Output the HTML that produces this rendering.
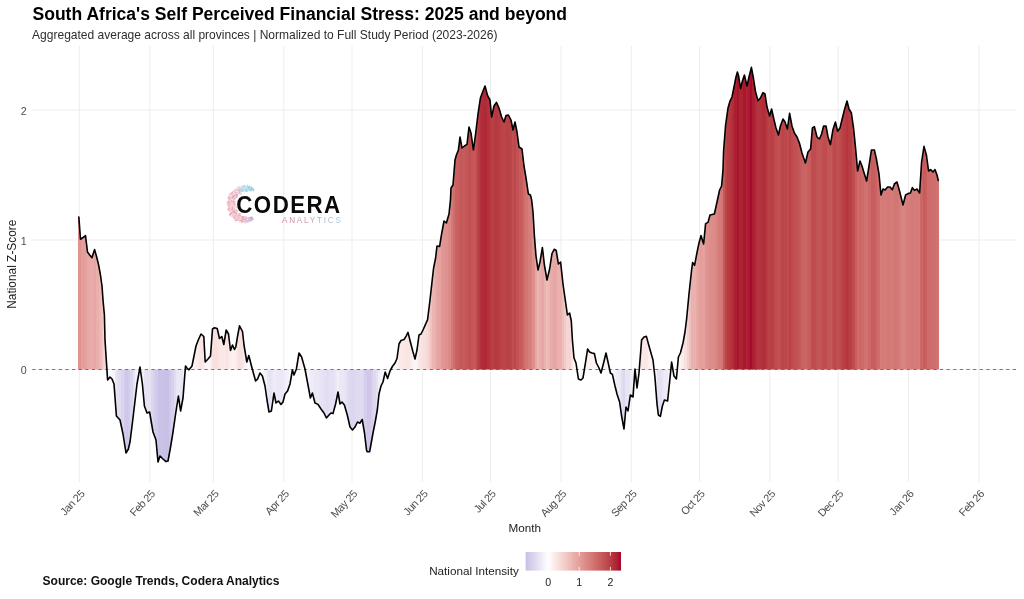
<!DOCTYPE html>
<html><head><meta charset="utf-8"><title>South Africa's Self Perceived Financial Stress</title>
<style>
html,body{margin:0;padding:0;background:#fff;}
body{width:1024px;height:599px;overflow:hidden;font-family:"Liberation Sans",Arial,sans-serif;}
svg{display:block}
text{font-family:"Liberation Sans",Arial,sans-serif;}
</style></head><body>
<svg width="1024" height="599" viewBox="0 0 1024 599">
<rect width="1024" height="599" fill="#ffffff"/>

<g stroke="#ededed" stroke-width="1" fill="none">
<line x1="31.5" x2="1016.6" y1="369.5" y2="369.5"/>
<line x1="31.5" x2="1016.6" y1="240.0" y2="240.0"/>
<line x1="31.5" x2="1016.6" y1="110.0" y2="110.0"/>
<line x1="79.4" x2="79.4" y1="46" y2="482"/>
<line x1="149.8" x2="149.8" y1="46" y2="482"/>
<line x1="213.4" x2="213.4" y1="46" y2="482"/>
<line x1="283.8" x2="283.8" y1="46" y2="482"/>
<line x1="352.0" x2="352.0" y1="46" y2="482"/>
<line x1="422.4" x2="422.4" y1="46" y2="482"/>
<line x1="490.5" x2="490.5" y1="46" y2="482"/>
<line x1="561.0" x2="561.0" y1="46" y2="482"/>
<line x1="631.4" x2="631.4" y1="46" y2="482"/>
<line x1="699.5" x2="699.5" y1="46" y2="482"/>
<line x1="769.9" x2="769.9" y1="46" y2="482"/>
<line x1="838.1" x2="838.1" y1="46" y2="482"/>
<line x1="908.5" x2="908.5" y1="46" y2="482"/>
<line x1="978.9" x2="978.9" y1="46" y2="482"/>
</g>
<defs><clipPath id="cp"><path d="M77.2,369.5 L77.2,216.5 L78.8,216.5 L80.5,239.3 L83.0,237.5 L85.5,235.6 L87.5,252.0 L89.7,255.0 L92.0,257.6 L94.6,249.6 L96.4,256.0 L98.4,264.0 L100.3,274.0 L102.0,286.0 L103.0,300.0 L104.4,315.0 L105.0,340.0 L107.6,380.0 L110.0,377.0 L112.0,379.0 L114.0,384.0 L116.4,416.0 L120.0,420.0 L123.0,434.0 L126.0,453.0 L128.4,449.0 L130.0,442.0 L133.0,418.0 L137.0,384.0 L140.0,367.0 L142.4,384.0 L144.4,406.0 L147.0,413.0 L149.6,412.0 L153.0,432.0 L156.0,440.0 L158.0,462.0 L160.0,456.0 L163.0,459.0 L166.0,461.6 L168.0,461.0 L170.4,448.0 L173.0,432.0 L175.6,414.0 L178.4,396.0 L180.6,411.0 L183.0,398.0 L185.5,366.0 L187.2,368.3 L189.0,369.8 L192.0,366.0 L194.0,356.0 L196.0,346.0 L198.5,339.5 L201.0,334.0 L203.8,336.5 L205.2,362.0 L208.0,359.0 L210.5,356.0 L212.5,329.0 L214.5,327.8 L217.2,328.5 L219.5,338.5 L221.8,336.5 L223.8,344.5 L226.2,330.0 L228.5,334.0 L230.5,350.5 L232.5,345.0 L234.5,349.5 L235.8,347.0 L237.6,336.0 L239.5,325.8 L242.5,331.5 L244.0,345.0 L246.8,362.0 L248.8,355.5 L252.0,368.0 L255.6,381.0 L257.6,379.0 L260.0,373.0 L262.4,376.0 L265.0,386.0 L267.0,400.0 L269.0,412.0 L271.4,411.0 L274.0,393.0 L276.0,403.0 L278.4,401.0 L281.0,404.4 L283.0,402.0 L285.0,394.0 L287.6,391.0 L290.0,384.0 L292.4,370.0 L294.0,375.0 L296.4,369.0 L299.0,353.0 L301.6,357.0 L305.0,369.0 L308.0,385.0 L310.4,398.0 L312.4,393.0 L315.0,403.0 L318.0,404.4 L321.0,409.0 L324.0,413.0 L326.4,418.0 L329.0,415.0 L331.0,413.0 L333.0,413.6 L335.6,404.0 L338.0,392.0 L340.0,404.0 L342.0,402.0 L344.4,405.0 L347.0,414.0 L348.2,419.0 L350.0,427.0 L352.5,430.0 L355.0,427.0 L357.5,422.0 L360.0,423.2 L362.2,419.5 L364.5,433.0 L366.5,450.0 L367.2,451.8 L369.6,451.8 L370.5,447.0 L373.0,433.0 L375.3,421.5 L377.3,410.0 L379.0,394.0 L381.0,386.0 L383.0,382.0 L385.2,372.0 L387.6,378.4 L390.0,371.0 L392.4,366.5 L395.0,363.0 L397.0,358.5 L399.0,344.0 L401.0,340.4 L404.0,339.6 L406.4,335.6 L408.0,332.4 L410.4,342.0 L413.0,352.0 L415.0,359.0 L417.0,350.0 L419.0,335.0 L421.0,334.0 L423.0,330.0 L427.6,319.6 L430.0,300.0 L432.0,282.0 L433.6,268.0 L435.6,258.0 L437.0,246.0 L439.6,246.4 L441.6,234.0 L444.0,221.0 L446.4,223.0 L449.0,214.0 L450.5,199.6 L451.0,188.0 L453.0,185.0 L455.0,160.0 L456.4,155.0 L458.4,150.0 L460.0,137.0 L462.0,148.0 L464.4,146.0 L467.0,144.4 L469.0,127.0 L471.0,133.0 L473.4,150.0 L475.6,134.0 L478.0,114.0 L480.4,98.0 L483.0,91.0 L485.0,86.0 L487.6,95.6 L490.0,100.0 L491.6,117.0 L494.0,106.0 L496.4,102.4 L499.0,108.0 L501.6,117.0 L504.0,122.0 L506.0,115.6 L508.4,115.0 L511.0,120.0 L513.0,130.0 L515.0,122.0 L517.0,132.0 L519.0,147.0 L522.0,149.0 L524.0,166.0 L526.0,178.0 L528.4,194.0 L530.4,195.0 L531.6,199.6 L533.0,212.0 L534.4,236.0 L536.0,256.0 L538.0,270.0 L540.0,262.0 L542.4,247.5 L544.4,265.0 L547.0,280.0 L549.6,269.0 L552.0,253.5 L554.2,249.3 L556.2,250.5 L558.4,264.0 L560.6,262.0 L563.0,284.0 L565.0,298.0 L567.4,315.0 L569.6,313.0 L571.3,321.0 L572.4,340.0 L574.0,358.0 L576.0,363.0 L578.4,379.0 L581.0,380.0 L583.0,378.0 L585.6,362.0 L587.6,349.0 L589.6,352.0 L592.0,353.0 L594.4,353.6 L596.4,363.0 L599.0,368.0 L601.0,373.0 L603.6,363.0 L606.0,353.0 L608.0,362.0 L610.4,373.0 L612.4,374.4 L615.0,386.0 L617.0,394.0 L619.6,402.0 L621.6,416.0 L624.0,429.0 L626.0,407.0 L628.0,411.0 L630.4,395.0 L633.0,397.0 L635.0,369.0 L637.0,388.0 L639.0,373.0 L641.6,340.0 L644.0,337.0 L646.4,336.4 L649.0,346.0 L653.0,360.0 L655.0,378.0 L657.0,404.0 L658.4,415.0 L660.4,416.4 L662.4,406.0 L664.4,400.0 L667.6,401.0 L669.6,382.0 L671.6,362.0 L674.0,376.0 L676.4,379.0 L678.4,357.0 L680.4,353.0 L683.0,343.0 L685.0,332.0 L686.6,319.0 L689.0,294.0 L691.6,270.0 L692.6,262.5 L694.6,265.3 L697.0,252.5 L699.0,243.0 L701.0,235.6 L703.6,244.0 L705.6,223.6 L708.0,222.4 L710.0,215.0 L714.4,214.0 L717.0,202.0 L719.6,190.0 L721.6,186.0 L723.0,170.0 L723.6,151.0 L725.6,125.0 L728.0,108.0 L730.0,101.0 L732.0,97.0 L734.4,85.0 L736.0,77.0 L737.4,72.0 L738.6,76.0 L740.6,88.6 L742.4,81.0 L744.4,75.0 L747.0,86.0 L749.0,77.0 L751.4,67.4 L753.4,78.0 L755.6,92.0 L758.0,100.6 L760.4,98.0 L763.0,92.6 L765.0,94.0 L767.0,107.0 L769.6,116.0 L771.6,109.0 L773.6,118.0 L776.0,128.0 L778.4,135.0 L780.4,126.0 L783.0,119.0 L785.0,122.0 L787.4,129.0 L789.6,113.4 L792.0,126.0 L794.4,133.0 L797.0,137.0 L799.4,143.0 L802.0,153.0 L805.4,163.0 L808.0,152.0 L810.6,149.0 L812.4,128.0 L814.4,126.6 L817.0,137.0 L819.4,139.0 L821.6,134.0 L823.6,126.0 L826.0,126.0 L828.0,137.0 L830.4,144.6 L833.0,129.5 L835.4,122.0 L837.6,131.3 L840.0,128.0 L842.4,118.0 L844.4,110.0 L847.0,101.0 L849.0,109.0 L851.4,113.0 L853.6,128.5 L855.6,148.5 L857.6,171.0 L860.0,161.0 L862.0,166.0 L864.4,174.0 L866.6,181.0 L869.0,166.0 L871.4,150.0 L874.4,150.0 L876.4,159.0 L879.0,174.0 L881.0,195.0 L883.0,189.0 L885.0,190.0 L887.6,187.0 L890.0,187.0 L892.4,189.6 L894.4,184.0 L897.0,182.0 L899.0,189.0 L901.0,197.0 L903.0,205.0 L905.6,195.0 L908.0,193.6 L910.4,193.0 L912.4,187.6 L914.4,190.4 L917.0,189.0 L919.6,193.0 L921.6,162.0 L924.0,146.4 L926.4,155.0 L928.6,171.0 L930.6,169.6 L933.0,172.0 L935.0,169.6 L937.0,175.0 L938.4,181.0 L939.5,181.0 L939.5,369.5 Z"/></clipPath></defs>
<g clip-path="url(#cp)" shape-rendering="crispEdges">
<rect x="78.27" y="60" width="2.57" height="410" fill="#df9491"/>
<rect x="80.53" y="60" width="2.57" height="410" fill="#e39f9b"/>
<rect x="82.81" y="60" width="2.57" height="410" fill="#e39d9a"/>
<rect x="85.08" y="60" width="2.57" height="410" fill="#e4a19d"/>
<rect x="87.34" y="60" width="2.57" height="410" fill="#e7a9a6"/>
<rect x="89.61" y="60" width="2.57" height="410" fill="#e8aba8"/>
<rect x="91.89" y="60" width="2.57" height="410" fill="#e8aaa7"/>
<rect x="94.16" y="60" width="2.57" height="410" fill="#e7a8a5"/>
<rect x="96.42" y="60" width="2.57" height="410" fill="#e9afab"/>
<rect x="98.70" y="60" width="2.57" height="410" fill="#ecb7b4"/>
<rect x="100.97" y="60" width="2.57" height="410" fill="#f0c2bf"/>
<rect x="103.23" y="60" width="2.57" height="410" fill="#f6d6d4"/>
<rect x="105.51" y="60" width="2.57" height="410" fill="#fefcfc"/>
<rect x="107.78" y="60" width="2.57" height="410" fill="#faf9fd"/>
<rect x="110.05" y="60" width="2.57" height="410" fill="#faf9fd"/>
<rect x="112.31" y="60" width="2.57" height="410" fill="#f7f6fb"/>
<rect x="114.58" y="60" width="2.57" height="410" fill="#e9e5f5"/>
<rect x="116.86" y="60" width="2.57" height="410" fill="#e3ddf2"/>
<rect x="119.12" y="60" width="2.57" height="410" fill="#e1dbf1"/>
<rect x="121.39" y="60" width="2.57" height="410" fill="#dad4ee"/>
<rect x="123.67" y="60" width="2.57" height="410" fill="#d2caea"/>
<rect x="125.94" y="60" width="2.57" height="410" fill="#cfc6e8"/>
<rect x="128.21" y="60" width="2.57" height="410" fill="#d3cbea"/>
<rect x="130.48" y="60" width="2.57" height="410" fill="#dcd5ef"/>
<rect x="132.75" y="60" width="2.57" height="410" fill="#e7e2f4"/>
<rect x="135.02" y="60" width="2.57" height="410" fill="#f2f0f9"/>
<rect x="137.29" y="60" width="2.57" height="410" fill="#fbfafd"/>
<rect x="139.56" y="60" width="2.57" height="410" fill="#fefdfe"/>
<rect x="141.83" y="60" width="2.57" height="410" fill="#f3f0f9"/>
<rect x="144.10" y="60" width="2.57" height="410" fill="#e8e4f4"/>
<rect x="146.37" y="60" width="2.57" height="410" fill="#e6e1f3"/>
<rect x="148.64" y="60" width="2.57" height="410" fill="#e5e1f3"/>
<rect x="150.91" y="60" width="2.57" height="410" fill="#ded7ef"/>
<rect x="153.18" y="60" width="2.57" height="410" fill="#d8d1ed"/>
<rect x="155.45" y="60" width="2.57" height="410" fill="#d2caea"/>
<rect x="157.72" y="60" width="2.57" height="410" fill="#cac1e6"/>
<rect x="159.99" y="60" width="2.57" height="410" fill="#cbc2e7"/>
<rect x="162.25" y="60" width="2.57" height="410" fill="#cac1e6"/>
<rect x="164.53" y="60" width="2.57" height="410" fill="#c9c0e6"/>
<rect x="166.80" y="60" width="2.57" height="410" fill="#c9c0e6"/>
<rect x="169.06" y="60" width="2.57" height="410" fill="#d0c8e9"/>
<rect x="171.34" y="60" width="2.57" height="410" fill="#d8d1ed"/>
<rect x="173.61" y="60" width="2.57" height="410" fill="#e1dcf1"/>
<rect x="175.88" y="60" width="2.57" height="410" fill="#eae6f5"/>
<rect x="178.15" y="60" width="2.57" height="410" fill="#ece8f6"/>
<rect x="180.42" y="60" width="2.57" height="410" fill="#eae5f5"/>
<rect x="182.69" y="60" width="2.57" height="410" fill="#f4f2fa"/>
<rect x="184.96" y="60" width="2.57" height="410" fill="#fffdfd"/>
<rect x="187.23" y="60" width="2.57" height="410" fill="#ffffff"/>
<rect x="189.50" y="60" width="2.57" height="410" fill="#fffefe"/>
<rect x="191.77" y="60" width="2.57" height="410" fill="#fef9f9"/>
<rect x="194.04" y="60" width="2.57" height="410" fill="#fcf1f0"/>
<rect x="196.31" y="60" width="2.57" height="410" fill="#fbebea"/>
<rect x="198.58" y="60" width="2.57" height="410" fill="#fae7e5"/>
<rect x="200.85" y="60" width="2.57" height="410" fill="#f9e5e4"/>
<rect x="203.12" y="60" width="2.57" height="410" fill="#fbeceb"/>
<rect x="205.39" y="60" width="2.57" height="410" fill="#fef8f8"/>
<rect x="207.66" y="60" width="2.57" height="410" fill="#fdf6f6"/>
<rect x="209.93" y="60" width="2.57" height="410" fill="#fcefee"/>
<rect x="212.20" y="60" width="2.57" height="410" fill="#f8e0df"/>
<rect x="214.47" y="60" width="2.57" height="410" fill="#f8e0df"/>
<rect x="216.74" y="60" width="2.57" height="410" fill="#f9e3e1"/>
<rect x="219.01" y="60" width="2.57" height="410" fill="#fae7e6"/>
<rect x="221.28" y="60" width="2.57" height="410" fill="#fae8e7"/>
<rect x="223.55" y="60" width="2.57" height="410" fill="#fae8e7"/>
<rect x="225.82" y="60" width="2.57" height="410" fill="#f9e3e1"/>
<rect x="228.09" y="60" width="2.57" height="410" fill="#fae9e8"/>
<rect x="230.36" y="60" width="2.57" height="410" fill="#fcefee"/>
<rect x="232.63" y="60" width="2.57" height="410" fill="#fcefee"/>
<rect x="234.90" y="60" width="2.57" height="410" fill="#fbedec"/>
<rect x="237.17" y="60" width="2.57" height="410" fill="#f9e3e2"/>
<rect x="239.44" y="60" width="2.57" height="410" fill="#f8e0de"/>
<rect x="241.71" y="60" width="2.57" height="410" fill="#f9e5e4"/>
<rect x="243.98" y="60" width="2.57" height="410" fill="#fcf2f1"/>
<rect x="246.25" y="60" width="2.57" height="410" fill="#fef8f8"/>
<rect x="248.52" y="60" width="2.57" height="410" fill="#fdf7f7"/>
<rect x="250.79" y="60" width="2.57" height="410" fill="#fffefe"/>
<rect x="253.06" y="60" width="2.57" height="410" fill="#fbfafd"/>
<rect x="255.33" y="60" width="2.57" height="410" fill="#f9f7fc"/>
<rect x="257.60" y="60" width="2.57" height="410" fill="#fbfafd"/>
<rect x="259.87" y="60" width="2.57" height="410" fill="#fcfcfe"/>
<rect x="262.13" y="60" width="2.57" height="410" fill="#f9f8fc"/>
<rect x="264.41" y="60" width="2.57" height="410" fill="#f3f1f9"/>
<rect x="266.68" y="60" width="2.57" height="410" fill="#eae6f5"/>
<rect x="268.95" y="60" width="2.57" height="410" fill="#e6e2f3"/>
<rect x="271.22" y="60" width="2.57" height="410" fill="#eae6f5"/>
<rect x="273.49" y="60" width="2.57" height="410" fill="#efecf8"/>
<rect x="275.75" y="60" width="2.57" height="410" fill="#ece8f6"/>
<rect x="278.02" y="60" width="2.57" height="410" fill="#ece8f6"/>
<rect x="280.30" y="60" width="2.57" height="410" fill="#ebe7f6"/>
<rect x="282.57" y="60" width="2.57" height="410" fill="#eeeaf7"/>
<rect x="284.84" y="60" width="2.57" height="410" fill="#f1eff9"/>
<rect x="287.11" y="60" width="2.57" height="410" fill="#f3f1fa"/>
<rect x="289.38" y="60" width="2.57" height="410" fill="#f8f7fc"/>
<rect x="291.64" y="60" width="2.57" height="410" fill="#fefeff"/>
<rect x="293.92" y="60" width="2.57" height="410" fill="#fdfdfe"/>
<rect x="296.19" y="60" width="2.57" height="410" fill="#fefafa"/>
<rect x="298.46" y="60" width="2.57" height="410" fill="#fdf3f3"/>
<rect x="300.73" y="60" width="2.57" height="410" fill="#fdf6f6"/>
<rect x="303.00" y="60" width="2.57" height="410" fill="#fefcfc"/>
<rect x="305.26" y="60" width="2.57" height="410" fill="#fbfafd"/>
<rect x="307.54" y="60" width="2.57" height="410" fill="#f4f2fa"/>
<rect x="309.81" y="60" width="2.57" height="410" fill="#efecf8"/>
<rect x="312.08" y="60" width="2.57" height="410" fill="#efecf8"/>
<rect x="314.35" y="60" width="2.57" height="410" fill="#ebe7f6"/>
<rect x="316.62" y="60" width="2.57" height="410" fill="#ebe7f5"/>
<rect x="318.88" y="60" width="2.57" height="410" fill="#e9e4f5"/>
<rect x="321.16" y="60" width="2.57" height="410" fill="#e7e2f4"/>
<rect x="323.43" y="60" width="2.57" height="410" fill="#e5e0f3"/>
<rect x="325.70" y="60" width="2.57" height="410" fill="#e3ddf2"/>
<rect x="327.97" y="60" width="2.57" height="410" fill="#e4dff2"/>
<rect x="330.24" y="60" width="2.57" height="410" fill="#e5e0f3"/>
<rect x="332.50" y="60" width="2.57" height="410" fill="#e6e2f4"/>
<rect x="334.77" y="60" width="2.57" height="410" fill="#ece8f6"/>
<rect x="337.05" y="60" width="2.57" height="410" fill="#f1eef9"/>
<rect x="339.32" y="60" width="2.57" height="410" fill="#ebe7f6"/>
<rect x="341.59" y="60" width="2.57" height="410" fill="#ebe8f6"/>
<rect x="343.86" y="60" width="2.57" height="410" fill="#e9e5f5"/>
<rect x="346.12" y="60" width="2.57" height="410" fill="#e4dff2"/>
<rect x="348.39" y="60" width="2.57" height="410" fill="#ded8f0"/>
<rect x="350.66" y="60" width="2.57" height="410" fill="#dcd5ef"/>
<rect x="352.94" y="60" width="2.57" height="410" fill="#ddd6ef"/>
<rect x="355.21" y="60" width="2.57" height="410" fill="#dfd9f0"/>
<rect x="357.48" y="60" width="2.57" height="410" fill="#e0daf0"/>
<rect x="359.75" y="60" width="2.57" height="410" fill="#e0dbf1"/>
<rect x="362.01" y="60" width="2.57" height="410" fill="#ded8f0"/>
<rect x="364.28" y="60" width="2.57" height="410" fill="#d5cdeb"/>
<rect x="366.56" y="60" width="2.57" height="410" fill="#cfc6e8"/>
<rect x="368.83" y="60" width="2.57" height="410" fill="#d0c7e9"/>
<rect x="371.10" y="60" width="2.57" height="410" fill="#d7d0ec"/>
<rect x="373.37" y="60" width="2.57" height="410" fill="#ded8f0"/>
<rect x="375.63" y="60" width="2.57" height="410" fill="#e5e1f3"/>
<rect x="377.90" y="60" width="2.57" height="410" fill="#f1eef8"/>
<rect x="380.18" y="60" width="2.57" height="410" fill="#f6f4fb"/>
<rect x="382.45" y="60" width="2.57" height="410" fill="#f9f8fc"/>
<rect x="384.72" y="60" width="2.57" height="410" fill="#fdfcfe"/>
<rect x="386.99" y="60" width="2.57" height="410" fill="#fbfafd"/>
<rect x="389.25" y="60" width="2.57" height="410" fill="#fffeff"/>
<rect x="391.52" y="60" width="2.57" height="410" fill="#fffcfc"/>
<rect x="393.80" y="60" width="2.57" height="410" fill="#fefafa"/>
<rect x="396.07" y="60" width="2.57" height="410" fill="#fdf6f5"/>
<rect x="398.34" y="60" width="2.57" height="410" fill="#fbebea"/>
<rect x="400.61" y="60" width="2.57" height="410" fill="#fae9e8"/>
<rect x="402.88" y="60" width="2.57" height="410" fill="#fae9e7"/>
<rect x="405.14" y="60" width="2.57" height="410" fill="#fae6e4"/>
<rect x="407.41" y="60" width="2.57" height="410" fill="#f9e5e4"/>
<rect x="409.69" y="60" width="2.57" height="410" fill="#fbeceb"/>
<rect x="411.96" y="60" width="2.57" height="410" fill="#fcf2f1"/>
<rect x="414.23" y="60" width="2.57" height="410" fill="#fdf6f5"/>
<rect x="416.50" y="60" width="2.57" height="410" fill="#fbedec"/>
<rect x="418.76" y="60" width="2.57" height="410" fill="#f9e5e4"/>
<rect x="421.03" y="60" width="2.57" height="410" fill="#f9e3e1"/>
<rect x="423.31" y="60" width="2.57" height="410" fill="#f8dfdd"/>
<rect x="425.58" y="60" width="2.57" height="410" fill="#f7dbd9"/>
<rect x="427.85" y="60" width="2.57" height="410" fill="#f4d2cf"/>
<rect x="430.12" y="60" width="2.57" height="410" fill="#f0c3c0"/>
<rect x="432.38" y="60" width="2.57" height="410" fill="#ebb5b1"/>
<rect x="434.65" y="60" width="2.57" height="410" fill="#e8aca8"/>
<rect x="436.93" y="60" width="2.57" height="410" fill="#e5a4a1"/>
<rect x="439.20" y="60" width="2.57" height="410" fill="#e4a19e"/>
<rect x="441.47" y="60" width="2.57" height="410" fill="#e19794"/>
<rect x="443.74" y="60" width="2.57" height="410" fill="#df928f"/>
<rect x="446.00" y="60" width="2.57" height="410" fill="#de918e"/>
<rect x="448.27" y="60" width="2.57" height="410" fill="#db8a87"/>
<rect x="450.55" y="60" width="2.57" height="410" fill="#d47977"/>
<rect x="452.82" y="60" width="2.57" height="410" fill="#cf6f6d"/>
<rect x="455.09" y="60" width="2.57" height="410" fill="#c96261"/>
<rect x="457.36" y="60" width="2.57" height="410" fill="#c75d5d"/>
<rect x="459.62" y="60" width="2.57" height="410" fill="#c45758"/>
<rect x="461.89" y="60" width="2.57" height="410" fill="#c65b5c"/>
<rect x="464.16" y="60" width="2.57" height="410" fill="#c55a5b"/>
<rect x="466.44" y="60" width="2.57" height="410" fill="#c35557"/>
<rect x="468.71" y="60" width="2.57" height="410" fill="#c04d50"/>
<rect x="470.98" y="60" width="2.57" height="410" fill="#c45658"/>
<rect x="473.25" y="60" width="2.57" height="410" fill="#c55859"/>
<rect x="475.51" y="60" width="2.57" height="410" fill="#be4a4d"/>
<rect x="477.78" y="60" width="2.57" height="410" fill="#b73b42"/>
<rect x="480.06" y="60" width="2.57" height="410" fill="#b2303b"/>
<rect x="482.33" y="60" width="2.57" height="410" fill="#b02a37"/>
<rect x="484.60" y="60" width="2.57" height="410" fill="#af2937"/>
<rect x="486.87" y="60" width="2.57" height="410" fill="#b3313b"/>
<rect x="489.13" y="60" width="2.57" height="410" fill="#b5373f"/>
<rect x="491.40" y="60" width="2.57" height="410" fill="#b94045"/>
<rect x="493.68" y="60" width="2.57" height="410" fill="#b63941"/>
<rect x="495.95" y="60" width="2.57" height="410" fill="#b63840"/>
<rect x="498.22" y="60" width="2.57" height="410" fill="#b83c43"/>
<rect x="500.49" y="60" width="2.57" height="410" fill="#bb4348"/>
<rect x="502.75" y="60" width="2.57" height="410" fill="#bd474b"/>
<rect x="505.02" y="60" width="2.57" height="410" fill="#ba4247"/>
<rect x="507.30" y="60" width="2.57" height="410" fill="#ba4247"/>
<rect x="509.57" y="60" width="2.57" height="410" fill="#bc454a"/>
<rect x="511.84" y="60" width="2.57" height="410" fill="#c04e50"/>
<rect x="514.11" y="60" width="2.57" height="410" fill="#bd484c"/>
<rect x="516.38" y="60" width="2.57" height="410" fill="#c25254"/>
<rect x="518.64" y="60" width="2.57" height="410" fill="#c65b5c"/>
<rect x="520.91" y="60" width="2.57" height="410" fill="#c75d5d"/>
<rect x="523.19" y="60" width="2.57" height="410" fill="#cd6b6a"/>
<rect x="525.46" y="60" width="2.57" height="410" fill="#d27573"/>
<rect x="527.73" y="60" width="2.57" height="410" fill="#d67e7c"/>
<rect x="530.00" y="60" width="2.57" height="410" fill="#d7817e"/>
<rect x="532.26" y="60" width="2.57" height="410" fill="#de908d"/>
<rect x="534.53" y="60" width="2.57" height="410" fill="#e7a8a5"/>
<rect x="536.81" y="60" width="2.57" height="410" fill="#ebb5b2"/>
<rect x="539.08" y="60" width="2.57" height="410" fill="#e9afac"/>
<rect x="541.35" y="60" width="2.57" height="410" fill="#e6a6a2"/>
<rect x="543.62" y="60" width="2.57" height="410" fill="#ebb3b0"/>
<rect x="545.88" y="60" width="2.57" height="410" fill="#eebdba"/>
<rect x="548.15" y="60" width="2.57" height="410" fill="#ecb6b3"/>
<rect x="550.43" y="60" width="2.57" height="410" fill="#e8aca8"/>
<rect x="552.70" y="60" width="2.57" height="410" fill="#e6a7a4"/>
<rect x="554.97" y="60" width="2.57" height="410" fill="#e7a7a4"/>
<rect x="557.24" y="60" width="2.57" height="410" fill="#eab1ae"/>
<rect x="559.50" y="60" width="2.57" height="410" fill="#eab0ad"/>
<rect x="561.77" y="60" width="2.57" height="410" fill="#efbfbc"/>
<rect x="564.05" y="60" width="2.57" height="410" fill="#f2cbc8"/>
<rect x="566.32" y="60" width="2.57" height="410" fill="#f6d6d4"/>
<rect x="568.59" y="60" width="2.57" height="410" fill="#f5d5d3"/>
<rect x="570.86" y="60" width="2.57" height="410" fill="#f9e4e2"/>
<rect x="573.12" y="60" width="2.57" height="410" fill="#fdf7f6"/>
<rect x="575.39" y="60" width="2.57" height="410" fill="#fffdfd"/>
<rect x="577.66" y="60" width="2.57" height="410" fill="#f9f8fc"/>
<rect x="579.94" y="60" width="2.57" height="410" fill="#f9f8fc"/>
<rect x="582.21" y="60" width="2.57" height="410" fill="#fbfafd"/>
<rect x="584.48" y="60" width="2.57" height="410" fill="#fef9f9"/>
<rect x="586.75" y="60" width="2.57" height="410" fill="#fcf0ef"/>
<rect x="589.01" y="60" width="2.57" height="410" fill="#fcf2f1"/>
<rect x="591.28" y="60" width="2.57" height="410" fill="#fdf3f2"/>
<rect x="593.55" y="60" width="2.57" height="410" fill="#fdf4f3"/>
<rect x="595.83" y="60" width="2.57" height="410" fill="#fefbfb"/>
<rect x="598.10" y="60" width="2.57" height="410" fill="#fffefe"/>
<rect x="600.37" y="60" width="2.57" height="410" fill="#fefeff"/>
<rect x="602.63" y="60" width="2.57" height="410" fill="#fefaf9"/>
<rect x="604.90" y="60" width="2.57" height="410" fill="#fdf3f2"/>
<rect x="607.17" y="60" width="2.57" height="410" fill="#fefafa"/>
<rect x="609.44" y="60" width="2.57" height="410" fill="#fdfcfe"/>
<rect x="611.72" y="60" width="2.57" height="410" fill="#fbfafd"/>
<rect x="613.99" y="60" width="2.57" height="410" fill="#f5f3fa"/>
<rect x="616.25" y="60" width="2.57" height="410" fill="#f0edf8"/>
<rect x="618.52" y="60" width="2.57" height="410" fill="#ece8f6"/>
<rect x="620.79" y="60" width="2.57" height="410" fill="#e3ddf2"/>
<rect x="623.06" y="60" width="2.57" height="410" fill="#ddd7ef"/>
<rect x="625.34" y="60" width="2.57" height="410" fill="#e8e4f4"/>
<rect x="627.61" y="60" width="2.57" height="410" fill="#e9e5f5"/>
<rect x="629.88" y="60" width="2.57" height="410" fill="#f0edf8"/>
<rect x="632.14" y="60" width="2.57" height="410" fill="#f1eef9"/>
<rect x="634.41" y="60" width="2.57" height="410" fill="#fcfcfe"/>
<rect x="636.68" y="60" width="2.57" height="410" fill="#f8f6fc"/>
<rect x="638.96" y="60" width="2.57" height="410" fill="#fdf7f7"/>
<rect x="641.23" y="60" width="2.57" height="410" fill="#fae8e7"/>
<rect x="643.50" y="60" width="2.57" height="410" fill="#fae7e5"/>
<rect x="645.76" y="60" width="2.57" height="410" fill="#fae8e6"/>
<rect x="648.03" y="60" width="2.57" height="410" fill="#fbeeed"/>
<rect x="650.30" y="60" width="2.57" height="410" fill="#fdf4f3"/>
<rect x="652.58" y="60" width="2.57" height="410" fill="#fffdfd"/>
<rect x="654.85" y="60" width="2.57" height="410" fill="#f3f0f9"/>
<rect x="657.12" y="60" width="2.57" height="410" fill="#e5e0f3"/>
<rect x="659.38" y="60" width="2.57" height="410" fill="#e4dff2"/>
<rect x="661.65" y="60" width="2.57" height="410" fill="#eae6f5"/>
<rect x="663.92" y="60" width="2.57" height="410" fill="#ede9f7"/>
<rect x="666.19" y="60" width="2.57" height="410" fill="#ede9f6"/>
<rect x="668.47" y="60" width="2.57" height="410" fill="#f8f6fc"/>
<rect x="670.74" y="60" width="2.57" height="410" fill="#fefbfa"/>
<rect x="673.00" y="60" width="2.57" height="410" fill="#fbfafd"/>
<rect x="675.27" y="60" width="2.57" height="410" fill="#f9f8fc"/>
<rect x="677.54" y="60" width="2.57" height="410" fill="#fdf5f5"/>
<rect x="679.81" y="60" width="2.57" height="410" fill="#fcf1f0"/>
<rect x="682.09" y="60" width="2.57" height="410" fill="#fbeae9"/>
<rect x="684.36" y="60" width="2.57" height="410" fill="#f8e0de"/>
<rect x="686.62" y="60" width="2.57" height="410" fill="#f4d1ce"/>
<rect x="688.89" y="60" width="2.57" height="410" fill="#efc0bd"/>
<rect x="691.16" y="60" width="2.57" height="410" fill="#eab2ae"/>
<rect x="693.43" y="60" width="2.57" height="410" fill="#eab2af"/>
<rect x="695.71" y="60" width="2.57" height="410" fill="#e7a9a6"/>
<rect x="697.98" y="60" width="2.57" height="410" fill="#e4a29e"/>
<rect x="700.25" y="60" width="2.57" height="410" fill="#e39d9a"/>
<rect x="702.51" y="60" width="2.57" height="410" fill="#e5a29f"/>
<rect x="704.78" y="60" width="2.57" height="410" fill="#df9490"/>
<rect x="707.05" y="60" width="2.57" height="410" fill="#df928f"/>
<rect x="709.33" y="60" width="2.57" height="410" fill="#dd8d8a"/>
<rect x="711.60" y="60" width="2.57" height="410" fill="#dc8d8a"/>
<rect x="713.87" y="60" width="2.57" height="410" fill="#db8b88"/>
<rect x="716.13" y="60" width="2.57" height="410" fill="#d88380"/>
<rect x="718.40" y="60" width="2.57" height="410" fill="#d57b79"/>
<rect x="720.67" y="60" width="2.57" height="410" fill="#d37674"/>
<rect x="722.94" y="60" width="2.57" height="410" fill="#c5595a"/>
<rect x="725.22" y="60" width="2.57" height="410" fill="#bc454a"/>
<rect x="727.49" y="60" width="2.57" height="410" fill="#b63a41"/>
<rect x="729.75" y="60" width="2.57" height="410" fill="#b4333d"/>
<rect x="732.02" y="60" width="2.57" height="410" fill="#b02c38"/>
<rect x="734.29" y="60" width="2.57" height="410" fill="#ac1f31"/>
<rect x="736.56" y="60" width="2.57" height="410" fill="#a9142d"/>
<rect x="738.84" y="60" width="2.57" height="410" fill="#ae2434"/>
<rect x="741.11" y="60" width="2.57" height="410" fill="#ad2132"/>
<rect x="743.38" y="60" width="2.57" height="410" fill="#aa182f"/>
<rect x="745.64" y="60" width="2.57" height="410" fill="#ae2534"/>
<rect x="747.91" y="60" width="2.57" height="410" fill="#aa1a2f"/>
<rect x="750.18" y="60" width="2.57" height="410" fill="#a70a2a"/>
<rect x="752.46" y="60" width="2.57" height="410" fill="#ac1e31"/>
<rect x="754.73" y="60" width="2.57" height="410" fill="#b12d39"/>
<rect x="757.00" y="60" width="2.57" height="410" fill="#b4353e"/>
<rect x="759.26" y="60" width="2.57" height="410" fill="#b3323c"/>
<rect x="761.53" y="60" width="2.57" height="410" fill="#b12e39"/>
<rect x="763.80" y="60" width="2.57" height="410" fill="#b22e3a"/>
<rect x="766.08" y="60" width="2.57" height="410" fill="#b73b42"/>
<rect x="768.35" y="60" width="2.57" height="410" fill="#ba4247"/>
<rect x="770.62" y="60" width="2.57" height="410" fill="#b83d44"/>
<rect x="772.88" y="60" width="2.57" height="410" fill="#bc454a"/>
<rect x="775.15" y="60" width="2.57" height="410" fill="#bf4d50"/>
<rect x="777.42" y="60" width="2.57" height="410" fill="#c15153"/>
<rect x="779.69" y="60" width="2.57" height="410" fill="#be4a4d"/>
<rect x="781.97" y="60" width="2.57" height="410" fill="#bc454a"/>
<rect x="784.24" y="60" width="2.57" height="410" fill="#bd484c"/>
<rect x="786.50" y="60" width="2.57" height="410" fill="#bf4c4f"/>
<rect x="788.77" y="60" width="2.57" height="410" fill="#ba4247"/>
<rect x="791.04" y="60" width="2.57" height="410" fill="#be4b4e"/>
<rect x="793.31" y="60" width="2.57" height="410" fill="#c15053"/>
<rect x="795.59" y="60" width="2.57" height="410" fill="#c25355"/>
<rect x="797.86" y="60" width="2.57" height="410" fill="#c45758"/>
<rect x="800.12" y="60" width="2.57" height="410" fill="#c75d5e"/>
<rect x="802.39" y="60" width="2.57" height="410" fill="#ca6363"/>
<rect x="804.66" y="60" width="2.57" height="410" fill="#cb6665"/>
<rect x="806.93" y="60" width="2.57" height="410" fill="#c85f5f"/>
<rect x="809.21" y="60" width="2.57" height="410" fill="#c75d5d"/>
<rect x="811.48" y="60" width="2.57" height="410" fill="#bf4c4f"/>
<rect x="813.75" y="60" width="2.57" height="410" fill="#bf4d50"/>
<rect x="816.01" y="60" width="2.57" height="410" fill="#c25355"/>
<rect x="818.28" y="60" width="2.57" height="410" fill="#c35556"/>
<rect x="820.55" y="60" width="2.57" height="410" fill="#c15153"/>
<rect x="822.83" y="60" width="2.57" height="410" fill="#be4b4e"/>
<rect x="825.10" y="60" width="2.57" height="410" fill="#bf4c4f"/>
<rect x="827.37" y="60" width="2.57" height="410" fill="#c35556"/>
<rect x="829.63" y="60" width="2.57" height="410" fill="#c45859"/>
<rect x="831.90" y="60" width="2.57" height="410" fill="#c04d50"/>
<rect x="834.17" y="60" width="2.57" height="410" fill="#bd484c"/>
<rect x="836.44" y="60" width="2.57" height="410" fill="#c04f51"/>
<rect x="838.72" y="60" width="2.57" height="410" fill="#bf4c4f"/>
<rect x="840.99" y="60" width="2.57" height="410" fill="#bc454a"/>
<rect x="843.25" y="60" width="2.57" height="410" fill="#b83d44"/>
<rect x="845.52" y="60" width="2.57" height="410" fill="#b5363f"/>
<rect x="847.79" y="60" width="2.57" height="410" fill="#b83c43"/>
<rect x="850.06" y="60" width="2.57" height="410" fill="#b93f45"/>
<rect x="852.34" y="60" width="2.57" height="410" fill="#bf4c4f"/>
<rect x="854.61" y="60" width="2.57" height="410" fill="#c75d5e"/>
<rect x="856.88" y="60" width="2.57" height="410" fill="#ce6c6b"/>
<rect x="859.14" y="60" width="2.57" height="410" fill="#cb6665"/>
<rect x="861.41" y="60" width="2.57" height="410" fill="#cd6b6a"/>
<rect x="863.68" y="60" width="2.57" height="410" fill="#d0706f"/>
<rect x="865.96" y="60" width="2.57" height="410" fill="#d17271"/>
<rect x="868.23" y="60" width="2.57" height="410" fill="#cc6867"/>
<rect x="870.50" y="60" width="2.57" height="410" fill="#c75d5e"/>
<rect x="872.76" y="60" width="2.57" height="410" fill="#c75d5e"/>
<rect x="875.03" y="60" width="2.57" height="410" fill="#ca6363"/>
<rect x="877.30" y="60" width="2.57" height="410" fill="#ce6d6c"/>
<rect x="879.58" y="60" width="2.57" height="410" fill="#d57d7a"/>
<rect x="881.85" y="60" width="2.57" height="410" fill="#d47b78"/>
<rect x="884.12" y="60" width="2.57" height="410" fill="#d57b79"/>
<rect x="886.38" y="60" width="2.57" height="410" fill="#d47977"/>
<rect x="888.65" y="60" width="2.57" height="410" fill="#d47977"/>
<rect x="890.92" y="60" width="2.57" height="410" fill="#d57b78"/>
<rect x="893.19" y="60" width="2.57" height="410" fill="#d37775"/>
<rect x="895.47" y="60" width="2.57" height="410" fill="#d27674"/>
<rect x="897.74" y="60" width="2.57" height="410" fill="#d47a78"/>
<rect x="900.00" y="60" width="2.57" height="410" fill="#d7817e"/>
<rect x="902.27" y="60" width="2.57" height="410" fill="#d98582"/>
<rect x="904.54" y="60" width="2.57" height="410" fill="#d67f7c"/>
<rect x="906.81" y="60" width="2.57" height="410" fill="#d67e7b"/>
<rect x="909.09" y="60" width="2.57" height="410" fill="#d67d7b"/>
<rect x="911.36" y="60" width="2.57" height="410" fill="#d47a77"/>
<rect x="913.62" y="60" width="2.57" height="410" fill="#d57b79"/>
<rect x="915.89" y="60" width="2.57" height="410" fill="#d47a78"/>
<rect x="918.16" y="60" width="2.57" height="410" fill="#d67d7b"/>
<rect x="920.43" y="60" width="2.57" height="410" fill="#cc6766"/>
<rect x="922.71" y="60" width="2.57" height="410" fill="#c65b5c"/>
<rect x="924.98" y="60" width="2.57" height="410" fill="#c96060"/>
<rect x="927.25" y="60" width="2.57" height="410" fill="#ce6c6b"/>
<rect x="929.51" y="60" width="2.57" height="410" fill="#ce6c6b"/>
<rect x="931.78" y="60" width="2.57" height="410" fill="#cf6e6c"/>
<rect x="934.05" y="60" width="2.57" height="410" fill="#ce6d6b"/>
<rect x="936.33" y="60" width="2.57" height="410" fill="#d07270"/>
</g>
<line x1="32.3" x2="1016.3" y1="369.5" y2="369.5" stroke="#606060" stroke-width="0.85" stroke-dasharray="3.1,3.5255"/>
<path d="M78.8,216.5 L80.5,239.3 L83.0,237.5 L85.5,235.6 L87.5,252.0 L89.7,255.0 L92.0,257.6 L94.6,249.6 L96.4,256.0 L98.4,264.0 L100.3,274.0 L102.0,286.0 L103.0,300.0 L104.4,315.0 L105.0,340.0 L107.6,380.0 L110.0,377.0 L112.0,379.0 L114.0,384.0 L116.4,416.0 L120.0,420.0 L123.0,434.0 L126.0,453.0 L128.4,449.0 L130.0,442.0 L133.0,418.0 L137.0,384.0 L140.0,367.0 L142.4,384.0 L144.4,406.0 L147.0,413.0 L149.6,412.0 L153.0,432.0 L156.0,440.0 L158.0,462.0 L160.0,456.0 L163.0,459.0 L166.0,461.6 L168.0,461.0 L170.4,448.0 L173.0,432.0 L175.6,414.0 L178.4,396.0 L180.6,411.0 L183.0,398.0 L185.5,366.0 L187.2,368.3 L189.0,369.8 L192.0,366.0 L194.0,356.0 L196.0,346.0 L198.5,339.5 L201.0,334.0 L203.8,336.5 L205.2,362.0 L208.0,359.0 L210.5,356.0 L212.5,329.0 L214.5,327.8 L217.2,328.5 L219.5,338.5 L221.8,336.5 L223.8,344.5 L226.2,330.0 L228.5,334.0 L230.5,350.5 L232.5,345.0 L234.5,349.5 L235.8,347.0 L237.6,336.0 L239.5,325.8 L242.5,331.5 L244.0,345.0 L246.8,362.0 L248.8,355.5 L252.0,368.0 L255.6,381.0 L257.6,379.0 L260.0,373.0 L262.4,376.0 L265.0,386.0 L267.0,400.0 L269.0,412.0 L271.4,411.0 L274.0,393.0 L276.0,403.0 L278.4,401.0 L281.0,404.4 L283.0,402.0 L285.0,394.0 L287.6,391.0 L290.0,384.0 L292.4,370.0 L294.0,375.0 L296.4,369.0 L299.0,353.0 L301.6,357.0 L305.0,369.0 L308.0,385.0 L310.4,398.0 L312.4,393.0 L315.0,403.0 L318.0,404.4 L321.0,409.0 L324.0,413.0 L326.4,418.0 L329.0,415.0 L331.0,413.0 L333.0,413.6 L335.6,404.0 L338.0,392.0 L340.0,404.0 L342.0,402.0 L344.4,405.0 L347.0,414.0 L348.2,419.0 L350.0,427.0 L352.5,430.0 L355.0,427.0 L357.5,422.0 L360.0,423.2 L362.2,419.5 L364.5,433.0 L366.5,450.0 L367.2,451.8 L369.6,451.8 L370.5,447.0 L373.0,433.0 L375.3,421.5 L377.3,410.0 L379.0,394.0 L381.0,386.0 L383.0,382.0 L385.2,372.0 L387.6,378.4 L390.0,371.0 L392.4,366.5 L395.0,363.0 L397.0,358.5 L399.0,344.0 L401.0,340.4 L404.0,339.6 L406.4,335.6 L408.0,332.4 L410.4,342.0 L413.0,352.0 L415.0,359.0 L417.0,350.0 L419.0,335.0 L421.0,334.0 L423.0,330.0 L427.6,319.6 L430.0,300.0 L432.0,282.0 L433.6,268.0 L435.6,258.0 L437.0,246.0 L439.6,246.4 L441.6,234.0 L444.0,221.0 L446.4,223.0 L449.0,214.0 L450.5,199.6 L451.0,188.0 L453.0,185.0 L455.0,160.0 L456.4,155.0 L458.4,150.0 L460.0,137.0 L462.0,148.0 L464.4,146.0 L467.0,144.4 L469.0,127.0 L471.0,133.0 L473.4,150.0 L475.6,134.0 L478.0,114.0 L480.4,98.0 L483.0,91.0 L485.0,86.0 L487.6,95.6 L490.0,100.0 L491.6,117.0 L494.0,106.0 L496.4,102.4 L499.0,108.0 L501.6,117.0 L504.0,122.0 L506.0,115.6 L508.4,115.0 L511.0,120.0 L513.0,130.0 L515.0,122.0 L517.0,132.0 L519.0,147.0 L522.0,149.0 L524.0,166.0 L526.0,178.0 L528.4,194.0 L530.4,195.0 L531.6,199.6 L533.0,212.0 L534.4,236.0 L536.0,256.0 L538.0,270.0 L540.0,262.0 L542.4,247.5 L544.4,265.0 L547.0,280.0 L549.6,269.0 L552.0,253.5 L554.2,249.3 L556.2,250.5 L558.4,264.0 L560.6,262.0 L563.0,284.0 L565.0,298.0 L567.4,315.0 L569.6,313.0 L571.3,321.0 L572.4,340.0 L574.0,358.0 L576.0,363.0 L578.4,379.0 L581.0,380.0 L583.0,378.0 L585.6,362.0 L587.6,349.0 L589.6,352.0 L592.0,353.0 L594.4,353.6 L596.4,363.0 L599.0,368.0 L601.0,373.0 L603.6,363.0 L606.0,353.0 L608.0,362.0 L610.4,373.0 L612.4,374.4 L615.0,386.0 L617.0,394.0 L619.6,402.0 L621.6,416.0 L624.0,429.0 L626.0,407.0 L628.0,411.0 L630.4,395.0 L633.0,397.0 L635.0,369.0 L637.0,388.0 L639.0,373.0 L641.6,340.0 L644.0,337.0 L646.4,336.4 L649.0,346.0 L653.0,360.0 L655.0,378.0 L657.0,404.0 L658.4,415.0 L660.4,416.4 L662.4,406.0 L664.4,400.0 L667.6,401.0 L669.6,382.0 L671.6,362.0 L674.0,376.0 L676.4,379.0 L678.4,357.0 L680.4,353.0 L683.0,343.0 L685.0,332.0 L686.6,319.0 L689.0,294.0 L691.6,270.0 L692.6,262.5 L694.6,265.3 L697.0,252.5 L699.0,243.0 L701.0,235.6 L703.6,244.0 L705.6,223.6 L708.0,222.4 L710.0,215.0 L714.4,214.0 L717.0,202.0 L719.6,190.0 L721.6,186.0 L723.0,170.0 L723.6,151.0 L725.6,125.0 L728.0,108.0 L730.0,101.0 L732.0,97.0 L734.4,85.0 L736.0,77.0 L737.4,72.0 L738.6,76.0 L740.6,88.6 L742.4,81.0 L744.4,75.0 L747.0,86.0 L749.0,77.0 L751.4,67.4 L753.4,78.0 L755.6,92.0 L758.0,100.6 L760.4,98.0 L763.0,92.6 L765.0,94.0 L767.0,107.0 L769.6,116.0 L771.6,109.0 L773.6,118.0 L776.0,128.0 L778.4,135.0 L780.4,126.0 L783.0,119.0 L785.0,122.0 L787.4,129.0 L789.6,113.4 L792.0,126.0 L794.4,133.0 L797.0,137.0 L799.4,143.0 L802.0,153.0 L805.4,163.0 L808.0,152.0 L810.6,149.0 L812.4,128.0 L814.4,126.6 L817.0,137.0 L819.4,139.0 L821.6,134.0 L823.6,126.0 L826.0,126.0 L828.0,137.0 L830.4,144.6 L833.0,129.5 L835.4,122.0 L837.6,131.3 L840.0,128.0 L842.4,118.0 L844.4,110.0 L847.0,101.0 L849.0,109.0 L851.4,113.0 L853.6,128.5 L855.6,148.5 L857.6,171.0 L860.0,161.0 L862.0,166.0 L864.4,174.0 L866.6,181.0 L869.0,166.0 L871.4,150.0 L874.4,150.0 L876.4,159.0 L879.0,174.0 L881.0,195.0 L883.0,189.0 L885.0,190.0 L887.6,187.0 L890.0,187.0 L892.4,189.6 L894.4,184.0 L897.0,182.0 L899.0,189.0 L901.0,197.0 L903.0,205.0 L905.6,195.0 L908.0,193.6 L910.4,193.0 L912.4,187.6 L914.4,190.4 L917.0,189.0 L919.6,193.0 L921.6,162.0 L924.0,146.4 L926.4,155.0 L928.6,171.0 L930.6,169.6 L933.0,172.0 L935.0,169.6 L937.0,175.0 L938.4,181.0" fill="none" stroke="#000" stroke-width="1.6" stroke-linejoin="round" stroke-linecap="butt"/>
<text x="32.5" y="20" font-size="17.55" font-weight="bold" fill="#000">South Africa's Self Perceived Financial Stress: 2025 and beyond</text>
<text x="32.1" y="38.8" font-size="12.02" fill="#2e2e2e">Aggregated average across all provinces | Normalized to Full Study Period (2023-2026)</text>
<text x="26.8" y="374.4" font-size="10.67" text-anchor="end" fill="#4d4d4d">0</text>
<text x="26.8" y="244.9" font-size="10.67" text-anchor="end" fill="#4d4d4d">1</text>
<text x="26.8" y="114.9" font-size="10.67" text-anchor="end" fill="#4d4d4d">2</text>
<text transform="translate(85.2,494.5) rotate(-47)" font-size="10.8" text-anchor="end" fill="#4d4d4d" letter-spacing="-0.45">Jan 25</text>
<text transform="translate(155.6,494.5) rotate(-47)" font-size="10.8" text-anchor="end" fill="#4d4d4d" letter-spacing="-0.45">Feb 25</text>
<text transform="translate(219.2,494.5) rotate(-47)" font-size="10.8" text-anchor="end" fill="#4d4d4d" letter-spacing="-0.45">Mar 25</text>
<text transform="translate(289.6,494.5) rotate(-47)" font-size="10.8" text-anchor="end" fill="#4d4d4d" letter-spacing="-0.45">Apr 25</text>
<text transform="translate(357.8,494.5) rotate(-47)" font-size="10.8" text-anchor="end" fill="#4d4d4d" letter-spacing="-0.45">May 25</text>
<text transform="translate(428.2,494.5) rotate(-47)" font-size="10.8" text-anchor="end" fill="#4d4d4d" letter-spacing="-0.45">Jun 25</text>
<text transform="translate(496.3,494.5) rotate(-47)" font-size="10.8" text-anchor="end" fill="#4d4d4d" letter-spacing="-0.45">Jul 25</text>
<text transform="translate(566.8,494.5) rotate(-47)" font-size="10.8" text-anchor="end" fill="#4d4d4d" letter-spacing="-0.45">Aug 25</text>
<text transform="translate(637.2,494.5) rotate(-47)" font-size="10.8" text-anchor="end" fill="#4d4d4d" letter-spacing="-0.45">Sep 25</text>
<text transform="translate(705.3,494.5) rotate(-47)" font-size="10.8" text-anchor="end" fill="#4d4d4d" letter-spacing="-0.45">Oct 25</text>
<text transform="translate(775.7,494.5) rotate(-47)" font-size="10.8" text-anchor="end" fill="#4d4d4d" letter-spacing="-0.45">Nov 25</text>
<text transform="translate(843.9,494.5) rotate(-47)" font-size="10.8" text-anchor="end" fill="#4d4d4d" letter-spacing="-0.45">Dec 25</text>
<text transform="translate(914.3,494.5) rotate(-47)" font-size="10.8" text-anchor="end" fill="#4d4d4d" letter-spacing="-0.45">Jan 26</text>
<text transform="translate(984.7,494.5) rotate(-47)" font-size="10.8" text-anchor="end" fill="#4d4d4d" letter-spacing="-0.45">Feb 26</text>
<text transform="translate(16.3,264.2) rotate(-90)" font-size="11.9" text-anchor="middle" fill="#222">National Z-Score</text>
<text x="524.7" y="531.5" font-size="11.7" text-anchor="middle" fill="#222">Month</text>
<defs><linearGradient id="lg" x1="0" x2="1" y1="0" y2="0">
<stop offset="0.0000" stop-color="#c8bee5"/>
<stop offset="0.0250" stop-color="#cec5e8"/>
<stop offset="0.0500" stop-color="#d3cceb"/>
<stop offset="0.0750" stop-color="#d9d2ed"/>
<stop offset="0.1000" stop-color="#dfd9f0"/>
<stop offset="0.1250" stop-color="#e5e0f3"/>
<stop offset="0.1500" stop-color="#ebe7f6"/>
<stop offset="0.1750" stop-color="#f1eef8"/>
<stop offset="0.2000" stop-color="#f7f5fb"/>
<stop offset="0.2250" stop-color="#fcfcfe"/>
<stop offset="0.2500" stop-color="#fefbfb"/>
<stop offset="0.2750" stop-color="#fdf3f3"/>
<stop offset="0.3000" stop-color="#fbeceb"/>
<stop offset="0.3250" stop-color="#f9e5e3"/>
<stop offset="0.3500" stop-color="#f7dddb"/>
<stop offset="0.3750" stop-color="#f5d6d4"/>
<stop offset="0.4000" stop-color="#f3cfcc"/>
<stop offset="0.4250" stop-color="#f1c7c5"/>
<stop offset="0.4500" stop-color="#efc0bd"/>
<stop offset="0.4750" stop-color="#edb9b6"/>
<stop offset="0.5000" stop-color="#eab1ae"/>
<stop offset="0.5250" stop-color="#e8aaa7"/>
<stop offset="0.5500" stop-color="#e5a3a0"/>
<stop offset="0.5750" stop-color="#e29c98"/>
<stop offset="0.6000" stop-color="#df9491"/>
<stop offset="0.6250" stop-color="#dc8d8a"/>
<stop offset="0.6500" stop-color="#d98683"/>
<stop offset="0.6750" stop-color="#d67f7c"/>
<stop offset="0.7000" stop-color="#d37775"/>
<stop offset="0.7250" stop-color="#d0706e"/>
<stop offset="0.7500" stop-color="#cc6968"/>
<stop offset="0.7750" stop-color="#c96161"/>
<stop offset="0.8000" stop-color="#c5595a"/>
<stop offset="0.8250" stop-color="#c25254"/>
<stop offset="0.8500" stop-color="#be4a4d"/>
<stop offset="0.8750" stop-color="#ba4247"/>
<stop offset="0.9000" stop-color="#b63941"/>
<stop offset="0.9250" stop-color="#b22f3b"/>
<stop offset="0.9500" stop-color="#ae2535"/>
<stop offset="0.9750" stop-color="#aa182f"/>
<stop offset="1.0000" stop-color="#a60329"/>
</linearGradient></defs>
<rect x="525.6" y="552" width="95.4" height="18.6" fill="url(#lg)"/>
<line x1="548.1" x2="548.1" y1="552" y2="555.7" stroke="#fff" stroke-width="0.8"/>
<line x1="548.1" x2="548.1" y1="566.9" y2="570.6" stroke="#fff" stroke-width="0.8"/>
<text x="548.1" y="585.8" font-size="10.67" text-anchor="middle" fill="#222">0</text>
<line x1="579.2" x2="579.2" y1="552" y2="555.7" stroke="#fff" stroke-width="0.8"/>
<line x1="579.2" x2="579.2" y1="566.9" y2="570.6" stroke="#fff" stroke-width="0.8"/>
<text x="579.2" y="585.8" font-size="10.67" text-anchor="middle" fill="#222">1</text>
<line x1="610.4" x2="610.4" y1="552" y2="555.7" stroke="#fff" stroke-width="0.8"/>
<line x1="610.4" x2="610.4" y1="566.9" y2="570.6" stroke="#fff" stroke-width="0.8"/>
<text x="610.4" y="585.8" font-size="10.67" text-anchor="middle" fill="#222">2</text>
<text x="518.8" y="574.8" font-size="11.7" text-anchor="end" fill="#222">National Intensity</text>
<text x="42.5" y="584.8" font-size="13.2" font-weight="bold" fill="#111" textLength="237" lengthAdjust="spacingAndGlyphs">Source: Google Trends, Codera Analytics</text>
<defs><linearGradient id="lga" gradientUnits="userSpaceOnUse" x1="282" y1="0" x2="341" y2="0"><stop offset="0" stop-color="#d58b9d"/><stop offset="0.55" stop-color="#c9a6c4"/><stop offset="1" stop-color="#9fd3e2"/></linearGradient></defs>
<g fill="none" opacity="0.4">
<path d="M252.7,189.6 A15.3,15.8 0 0 0 250.3,188.7" stroke="#93cfe0" stroke-width="3.6"/>
<path d="M250.7,188.8 A15.3,15.8 0 0 0 248.2,188.3" stroke="#96cee1" stroke-width="4.2"/>
<path d="M248.6,188.3 A15.3,15.8 0 0 0 246.0,188.2" stroke="#9acde1" stroke-width="4.8"/>
<path d="M246.4,188.2 A15.3,15.8 0 0 0 243.8,188.4" stroke="#9dcde2" stroke-width="5.2"/>
<path d="M244.2,188.4 A15.3,15.8 0 0 0 241.7,189.0" stroke="#a3cae0" stroke-width="5.6"/>
<path d="M242.1,188.9 A15.3,15.8 0 0 0 239.7,189.8" stroke="#b7c0d8" stroke-width="5.9"/>
<path d="M240.1,189.7 A15.3,15.8 0 0 0 237.8,191.0" stroke="#ccb6cf" stroke-width="6.2"/>
<path d="M238.2,190.7 A15.3,15.8 0 0 0 236.1,192.4" stroke="#e0acc6" stroke-width="6.5"/>
<path d="M236.4,192.1 A15.3,15.8 0 0 0 234.6,194.0" stroke="#e1a9c1" stroke-width="6.7"/>
<path d="M234.9,193.7 A15.3,15.8 0 0 0 233.4,195.8" stroke="#e3a5bc" stroke-width="6.9"/>
<path d="M233.6,195.5 A15.3,15.8 0 0 0 232.4,197.8" stroke="#e4a2b7" stroke-width="7.0"/>
<path d="M232.6,197.5 A15.3,15.8 0 0 0 231.7,200.0" stroke="#e69eb2" stroke-width="7.1"/>
<path d="M231.8,199.6 A15.3,15.8 0 0 0 231.3,202.2" stroke="#e79bad" stroke-width="7.2"/>
<path d="M231.4,201.8 A15.3,15.8 0 0 0 231.2,204.4" stroke="#e897a8" stroke-width="7.2"/>
<path d="M231.2,204.0 A15.3,15.8 0 0 0 231.4,206.6" stroke="#e995a5" stroke-width="7.2"/>
<path d="M231.4,206.2 A15.3,15.8 0 0 0 231.9,208.8" stroke="#e895a5" stroke-width="7.2"/>
<path d="M231.8,208.4 A15.3,15.8 0 0 0 232.7,210.9" stroke="#e794a4" stroke-width="7.1"/>
<path d="M232.6,210.5 A15.3,15.8 0 0 0 233.8,212.9" stroke="#e793a3" stroke-width="7.0"/>
<path d="M233.6,212.5 A15.3,15.8 0 0 0 235.2,214.6" stroke="#e692a2" stroke-width="6.8"/>
<path d="M234.9,214.3 A15.3,15.8 0 0 0 236.7,216.2" stroke="#e691a1" stroke-width="6.6"/>
<path d="M236.4,215.9 A15.3,15.8 0 0 0 238.5,217.5" stroke="#e590a0" stroke-width="6.4"/>
<path d="M238.2,217.3 A15.3,15.8 0 0 0 240.4,218.5" stroke="#e58f9f" stroke-width="6.2"/>
<path d="M240.1,218.3 A15.3,15.8 0 0 0 242.5,219.2" stroke="#e48e9e" stroke-width="5.9"/>
<path d="M242.1,219.1 A15.3,15.8 0 0 0 244.6,219.7" stroke="#de93a9" stroke-width="5.5"/>
<path d="M244.2,219.6 A15.3,15.8 0 0 0 246.8,219.8" stroke="#d898b5" stroke-width="5.1"/>
<path d="M246.4,219.8 A15.3,15.8 0 0 0 248.9,219.6" stroke="#d19dc0" stroke-width="4.7"/>
<path d="M248.6,219.7 A15.3,15.8 0 0 0 251.1,219.1" stroke="#c9a2cb" stroke-width="4.1"/>
<path d="M250.7,219.2 A15.3,15.8 0 0 0 253.1,218.3" stroke="#bea9d5" stroke-width="3.4"/>
</g>
<circle cx="237.4" cy="195.7" r="0.68" fill="#e2a8c0" opacity="0.39"/>
<circle cx="232.6" cy="206.1" r="0.38" fill="#e895a5" opacity="0.63"/>
<circle cx="251.4" cy="189.4" r="0.38" fill="#93cfe0" opacity="0.40"/>
<circle cx="229.0" cy="198.2" r="0.41" fill="#e69eb1" opacity="0.47"/>
<circle cx="229.7" cy="214.0" r="0.64" fill="#e793a3" opacity="0.57"/>
<circle cx="251.7" cy="217.1" r="0.78" fill="#bcabd7" opacity="0.51"/>
<circle cx="245.2" cy="191.0" r="0.50" fill="#9dcde2" opacity="0.80"/>
<circle cx="242.5" cy="188.2" r="0.67" fill="#a7c9df" opacity="0.55"/>
<circle cx="235.6" cy="206.2" r="0.38" fill="#e895a5" opacity="0.46"/>
<circle cx="235.7" cy="214.2" r="0.51" fill="#e691a1" opacity="0.67"/>
<circle cx="233.4" cy="201.4" r="0.75" fill="#e79bad" opacity="0.73"/>
<circle cx="238.6" cy="189.8" r="0.61" fill="#cbb6cf" opacity="0.83"/>
<circle cx="238.6" cy="215.3" r="0.84" fill="#e590a0" opacity="0.41"/>
<circle cx="229.8" cy="198.0" r="0.43" fill="#e69eb2" opacity="0.62"/>
<circle cx="251.6" cy="188.4" r="0.73" fill="#93cfe0" opacity="0.67"/>
<circle cx="246.2" cy="218.5" r="0.70" fill="#d699b8" opacity="0.68"/>
<circle cx="232.4" cy="209.0" r="0.77" fill="#e894a4" opacity="0.87"/>
<circle cx="229.7" cy="202.1" r="0.38" fill="#e899aa" opacity="0.74"/>
<circle cx="230.2" cy="215.6" r="0.76" fill="#e792a2" opacity="0.51"/>
<circle cx="231.5" cy="196.1" r="0.36" fill="#e4a1b7" opacity="0.60"/>
<circle cx="244.0" cy="191.3" r="0.38" fill="#a0cce2" opacity="0.77"/>
<circle cx="245.9" cy="189.9" r="0.55" fill="#9ccde2" opacity="0.83"/>
<circle cx="248.8" cy="188.7" r="0.62" fill="#97cee1" opacity="0.84"/>
<circle cx="242.0" cy="221.9" r="0.49" fill="#e091a5" opacity="0.58"/>
<circle cx="230.8" cy="193.3" r="0.83" fill="#e3a4bb" opacity="0.43"/>
<circle cx="243.4" cy="190.6" r="0.47" fill="#a4cae0" opacity="0.62"/>
<circle cx="234.3" cy="208.8" r="0.35" fill="#e794a4" opacity="0.58"/>
<circle cx="232.8" cy="195.6" r="0.83" fill="#e4a3b9" opacity="0.73"/>
<circle cx="230.1" cy="205.1" r="0.69" fill="#e996a6" opacity="0.38"/>
<circle cx="247.8" cy="221.4" r="0.79" fill="#d19dc0" opacity="0.79"/>
<circle cx="233.5" cy="197.7" r="0.40" fill="#e5a1b6" opacity="0.70"/>
<circle cx="249.5" cy="190.8" r="0.45" fill="#95cfe1" opacity="0.44"/>
<circle cx="237.6" cy="196.9" r="0.35" fill="#e2a6bd" opacity="0.43"/>
<circle cx="247.5" cy="189.1" r="0.36" fill="#99cee1" opacity="0.83"/>
<circle cx="235.8" cy="209.6" r="0.48" fill="#e793a3" opacity="0.54"/>
<circle cx="236.5" cy="197.5" r="0.77" fill="#e3a4ba" opacity="0.90"/>
<circle cx="231.5" cy="201.8" r="0.39" fill="#e899ab" opacity="0.41"/>
<circle cx="236.0" cy="195.8" r="0.76" fill="#e3a6bd" opacity="0.44"/>
<circle cx="253.0" cy="188.0" r="0.61" fill="#91cfe0" opacity="0.43"/>
<circle cx="235.9" cy="206.0" r="0.61" fill="#e895a5" opacity="0.89"/>
<circle cx="245.3" cy="221.0" r="0.48" fill="#d897b4" opacity="0.55"/>
<circle cx="243.1" cy="186.6" r="0.62" fill="#a0cce2" opacity="0.78"/>
<circle cx="236.7" cy="195.5" r="0.76" fill="#e2a7bf" opacity="0.89"/>
<circle cx="244.4" cy="221.8" r="0.76" fill="#da96b1" opacity="0.76"/>
<circle cx="239.8" cy="189.6" r="0.53" fill="#c1bbd3" opacity="0.37"/>
<circle cx="251.8" cy="190.1" r="0.48" fill="#92cfe0" opacity="0.73"/>
<circle cx="251.1" cy="218.8" r="0.82" fill="#c2a7d1" opacity="0.89"/>
<circle cx="250.9" cy="218.5" r="0.46" fill="#c3a7d1" opacity="0.47"/>
<circle cx="242.4" cy="191.2" r="0.66" fill="#b0c4db" opacity="0.85"/>
<circle cx="244.0" cy="219.4" r="0.68" fill="#dc94ac" opacity="0.79"/>
<circle cx="248.8" cy="187.5" r="0.80" fill="#98cee1" opacity="0.78"/>
<circle cx="238.7" cy="217.4" r="0.44" fill="#e58f9f" opacity="0.78"/>
<circle cx="232.6" cy="192.2" r="0.84" fill="#e2a7be" opacity="0.57"/>
<circle cx="228.6" cy="196.1" r="0.71" fill="#e5a0b4" opacity="0.44"/>
<circle cx="246.0" cy="190.6" r="0.80" fill="#9ccde1" opacity="0.79"/>
<circle cx="244.5" cy="186.1" r="0.84" fill="#9ecde2" opacity="0.71"/>
<circle cx="233.7" cy="194.6" r="0.42" fill="#e3a5bc" opacity="0.36"/>
<circle cx="252.2" cy="219.2" r="0.61" fill="#beaad6" opacity="0.86"/>
<circle cx="228.4" cy="198.8" r="0.76" fill="#e69db0" opacity="0.47"/>
<circle cx="239.4" cy="192.1" r="0.47" fill="#d0b4cd" opacity="0.67"/>
<circle cx="238.5" cy="191.4" r="0.42" fill="#d4b2cb" opacity="0.85"/>
<circle cx="234.2" cy="195.3" r="0.64" fill="#e3a5bb" opacity="0.85"/>
<circle cx="228.3" cy="197.6" r="0.60" fill="#e69eb2" opacity="0.64"/>
<circle cx="235.9" cy="205.1" r="0.57" fill="#e995a5" opacity="0.45"/>
<circle cx="253.8" cy="189.4" r="0.44" fill="#8fd0e0" opacity="0.61"/>
<circle cx="237.0" cy="217.0" r="0.51" fill="#e590a0" opacity="0.64"/>
<circle cx="229.0" cy="208.2" r="0.40" fill="#e895a5" opacity="0.66"/>
<circle cx="239.6" cy="192.1" r="0.74" fill="#ceb5ce" opacity="0.63"/>
<circle cx="229.3" cy="208.6" r="0.81" fill="#e894a4" opacity="0.59"/>
<circle cx="232.8" cy="211.1" r="0.61" fill="#e793a3" opacity="0.73"/>
<circle cx="231.2" cy="200.9" r="0.59" fill="#e79bad" opacity="0.87"/>
<circle cx="233.8" cy="218.0" r="0.82" fill="#e691a1" opacity="0.49"/>
<circle cx="227.6" cy="208.9" r="0.77" fill="#e894a4" opacity="0.43"/>
<circle cx="246.3" cy="188.6" r="0.39" fill="#9bcde1" opacity="0.48"/>
<circle cx="249.5" cy="187.6" r="0.74" fill="#96cee1" opacity="0.84"/>
<circle cx="244.0" cy="186.9" r="0.68" fill="#9ecce2" opacity="0.43"/>
<circle cx="246.6" cy="222.8" r="0.46" fill="#d49aba" opacity="0.87"/>
<circle cx="232.6" cy="197.6" r="0.84" fill="#e5a0b5" opacity="0.81"/>
<circle cx="243.9" cy="189.0" r="0.61" fill="#9fcce2" opacity="0.54"/>
<circle cx="242.2" cy="190.4" r="0.71" fill="#afc4db" opacity="0.36"/>
<circle cx="232.1" cy="207.4" r="0.36" fill="#e895a5" opacity="0.53"/>
<circle cx="233.1" cy="211.8" r="0.38" fill="#e793a3" opacity="0.89"/>
<circle cx="239.4" cy="222.1" r="0.40" fill="#e48e9e" opacity="0.50"/>
<circle cx="251.8" cy="187.9" r="0.49" fill="#93cfe0" opacity="0.42"/>
<circle cx="228.3" cy="197.8" r="0.76" fill="#e69eb1" opacity="0.49"/>
<circle cx="244.2" cy="185.4" r="0.64" fill="#9ecce2" opacity="0.74"/>
<circle cx="248.0" cy="190.9" r="0.69" fill="#98cee1" opacity="0.58"/>
<circle cx="249.8" cy="186.2" r="0.67" fill="#96cee1" opacity="0.79"/>
<circle cx="249.0" cy="186.4" r="0.38" fill="#97cee1" opacity="0.82"/>
<circle cx="233.0" cy="201.3" r="0.63" fill="#e79bad" opacity="0.86"/>
<circle cx="239.5" cy="193.8" r="0.61" fill="#d9afc9" opacity="0.48"/>
<circle cx="247.0" cy="190.4" r="0.38" fill="#9acde1" opacity="0.46"/>
<circle cx="236.8" cy="194.2" r="0.73" fill="#e1a9c1" opacity="0.51"/>
<circle cx="234.3" cy="204.0" r="0.52" fill="#e996a6" opacity="0.36"/>
<circle cx="240.7" cy="194.0" r="0.72" fill="#cfb4cd" opacity="0.65"/>
<circle cx="242.2" cy="189.1" r="0.82" fill="#acc6dd" opacity="0.41"/>
<circle cx="242.7" cy="218.7" r="0.60" fill="#e091a5" opacity="0.81"/>
<circle cx="232.6" cy="197.3" r="0.69" fill="#e5a1b6" opacity="0.89"/>
<circle cx="231.9" cy="192.6" r="0.70" fill="#e3a6bd" opacity="0.70"/>
<circle cx="233.7" cy="198.5" r="0.38" fill="#e5a0b4" opacity="0.42"/>
<circle cx="249.7" cy="187.3" r="0.48" fill="#96cee1" opacity="0.44"/>
<circle cx="248.9" cy="186.5" r="0.79" fill="#97cee1" opacity="0.72"/>
<circle cx="238.3" cy="193.5" r="0.50" fill="#e0acc6" opacity="0.60"/>
<circle cx="244.1" cy="188.8" r="0.48" fill="#9fcce2" opacity="0.88"/>
<circle cx="252.2" cy="218.8" r="0.47" fill="#bdaad6" opacity="0.88"/>
<circle cx="236.6" cy="193.8" r="0.35" fill="#e1a9c2" opacity="0.56"/>
<circle cx="231.3" cy="202.4" r="0.45" fill="#e899aa" opacity="0.63"/>
<circle cx="253.2" cy="190.4" r="0.39" fill="#8fd0e0" opacity="0.57"/>
<circle cx="250.6" cy="191.0" r="0.50" fill="#93cfe0" opacity="0.48"/>
<circle cx="231.9" cy="209.5" r="0.73" fill="#e894a4" opacity="0.71"/>
<circle cx="234.8" cy="218.9" r="0.54" fill="#e590a0" opacity="0.53"/>
<circle cx="252.4" cy="217.4" r="0.71" fill="#b9adda" opacity="0.70"/>
<circle cx="251.6" cy="187.6" r="0.80" fill="#93cfe1" opacity="0.70"/>
<circle cx="236.3" cy="219.2" r="0.42" fill="#e590a0" opacity="0.64"/>
<circle cx="228.0" cy="204.3" r="0.75" fill="#e996a6" opacity="0.80"/>
<circle cx="228.6" cy="210.6" r="0.69" fill="#e894a4" opacity="0.73"/>
<circle cx="241.4" cy="193.3" r="0.42" fill="#c3bad3" opacity="0.55"/>
<circle cx="247.5" cy="186.2" r="0.63" fill="#9acee1" opacity="0.70"/>
<circle cx="231.8" cy="212.7" r="0.59" fill="#e793a3" opacity="0.35"/>
<circle cx="240.7" cy="220.7" r="0.60" fill="#e48e9e" opacity="0.64"/>
<circle cx="237.5" cy="211.1" r="0.72" fill="#e692a2" opacity="0.49"/>
<circle cx="249.0" cy="189.7" r="0.71" fill="#96cee1" opacity="0.46"/>
<circle cx="235.9" cy="220.6" r="0.60" fill="#e590a0" opacity="0.56"/>
<circle cx="229.5" cy="202.5" r="0.73" fill="#e898a9" opacity="0.69"/>
<circle cx="237.0" cy="210.5" r="0.42" fill="#e792a2" opacity="0.49"/>
<circle cx="239.1" cy="215.9" r="0.63" fill="#e58f9f" opacity="0.36"/>
<circle cx="249.9" cy="189.8" r="0.69" fill="#95cfe1" opacity="0.73"/>
<circle cx="236.4" cy="213.2" r="0.61" fill="#e691a1" opacity="0.61"/>
<circle cx="235.0" cy="202.3" r="0.80" fill="#e899ab" opacity="0.46"/>
<circle cx="253.0" cy="219.9" r="0.36" fill="#bbabd8" opacity="0.60"/>
<circle cx="241.8" cy="222.7" r="0.57" fill="#e091a6" opacity="0.50"/>
<circle cx="239.6" cy="186.0" r="0.46" fill="#b7c0d8" opacity="0.67"/>
<circle cx="245.0" cy="188.1" r="0.83" fill="#9dcde2" opacity="0.42"/>
<circle cx="242.7" cy="219.3" r="0.79" fill="#e091a6" opacity="0.74"/>
<circle cx="238.2" cy="187.0" r="0.59" fill="#c4bad2" opacity="0.36"/>
<circle cx="253.5" cy="190.0" r="0.58" fill="#8fd0e0" opacity="0.52"/>
<circle cx="245.2" cy="189.4" r="0.51" fill="#9dcde2" opacity="0.81"/>
<circle cx="253.8" cy="189.6" r="0.77" fill="#8fd0e0" opacity="0.42"/>
<circle cx="249.5" cy="220.6" r="0.80" fill="#cca1c9" opacity="0.51"/>
<circle cx="234.1" cy="196.6" r="0.85" fill="#e4a3b9" opacity="0.67"/>
<circle cx="234.2" cy="195.8" r="0.49" fill="#e3a4ba" opacity="0.38"/>
<circle cx="247.7" cy="186.2" r="0.49" fill="#99cee1" opacity="0.86"/>
<circle cx="239.6" cy="192.2" r="0.61" fill="#ceb5ce" opacity="0.45"/>
<circle cx="229.6" cy="194.0" r="0.79" fill="#e4a3b8" opacity="0.80"/>
<circle cx="230.1" cy="214.1" r="0.82" fill="#e792a2" opacity="0.65"/>
<circle cx="239.4" cy="213.3" r="0.72" fill="#e590a0" opacity="0.60"/>
<circle cx="238.2" cy="218.7" r="0.49" fill="#e58f9f" opacity="0.38"/>
<circle cx="249.0" cy="217.5" r="0.59" fill="#cca1c9" opacity="0.54"/>
<circle cx="234.8" cy="190.7" r="0.84" fill="#e1aac3" opacity="0.49"/>
<circle cx="235.7" cy="212.3" r="0.63" fill="#e692a2" opacity="0.57"/>
<circle cx="243.9" cy="191.0" r="0.45" fill="#a0cce2" opacity="0.85"/>
<circle cx="233.9" cy="203.8" r="0.80" fill="#e996a6" opacity="0.90"/>
<circle cx="234.9" cy="201.5" r="0.45" fill="#e79bad" opacity="0.40"/>
<circle cx="237.3" cy="196.8" r="0.47" fill="#e3a6bd" opacity="0.49"/>
<circle cx="228.3" cy="209.5" r="0.72" fill="#e894a4" opacity="0.58"/>
<circle cx="231.9" cy="198.4" r="0.54" fill="#e59fb3" opacity="0.54"/>
<circle cx="249.8" cy="189.8" r="0.83" fill="#95cfe1" opacity="0.42"/>
<circle cx="230.0" cy="204.2" r="0.78" fill="#e996a6" opacity="0.47"/>
<circle cx="238.8" cy="193.0" r="0.55" fill="#dbafc8" opacity="0.60"/>
<circle cx="251.5" cy="220.6" r="0.79" fill="#c3a6d1" opacity="0.36"/>
<circle cx="252.1" cy="188.4" r="0.80" fill="#92cfe0" opacity="0.61"/>
<circle cx="236.6" cy="207.8" r="0.55" fill="#e894a4" opacity="0.86"/>
<circle cx="242.4" cy="221.9" r="0.84" fill="#df92a8" opacity="0.49"/>
<circle cx="247.0" cy="190.4" r="0.61" fill="#9acde1" opacity="0.73"/>
<circle cx="250.5" cy="220.3" r="0.67" fill="#c7a4cd" opacity="0.77"/>
<circle cx="231.0" cy="201.2" r="0.37" fill="#e79aac" opacity="0.78"/>
<circle cx="238.0" cy="186.8" r="0.67" fill="#c5bad2" opacity="0.52"/>
<circle cx="246.0" cy="189.9" r="0.67" fill="#9ccde2" opacity="0.73"/>
<circle cx="246.8" cy="191.0" r="0.61" fill="#9acde1" opacity="0.67"/>
<circle cx="235.1" cy="198.2" r="0.65" fill="#e4a1b6" opacity="0.36"/>
<circle cx="236.3" cy="192.8" r="0.83" fill="#e1aac3" opacity="0.70"/>
<circle cx="246.7" cy="219.6" r="0.47" fill="#d49abb" opacity="0.49"/>
<circle cx="251.7" cy="219.8" r="0.50" fill="#c1a8d3" opacity="0.36"/>
<circle cx="229.5" cy="203.9" r="0.56" fill="#e996a6" opacity="0.49"/>
<circle cx="231.7" cy="216.5" r="0.46" fill="#e691a1" opacity="0.37"/>
<circle cx="235.0" cy="194.7" r="0.69" fill="#e2a6be" opacity="0.46"/>
<circle cx="240.7" cy="220.6" r="0.60" fill="#e48e9e" opacity="0.46"/>
<circle cx="251.7" cy="218.0" r="0.76" fill="#beaad5" opacity="0.48"/>
<circle cx="239.4" cy="187.7" r="0.50" fill="#bebdd5" opacity="0.87"/>
<circle cx="234.2" cy="203.8" r="0.46" fill="#e996a7" opacity="0.58"/>
<circle cx="231.5" cy="216.5" r="0.42" fill="#e692a2" opacity="0.57"/>
<circle cx="239.3" cy="185.9" r="0.42" fill="#b9bfd7" opacity="0.38"/>
<circle cx="250.0" cy="189.2" r="0.80" fill="#95cfe1" opacity="0.84"/>
<circle cx="235.3" cy="220.4" r="0.82" fill="#e590a0" opacity="0.53"/>
<circle cx="241.5" cy="185.6" r="0.72" fill="#a9c7de" opacity="0.37"/>
<circle cx="235.4" cy="213.2" r="0.54" fill="#e692a2" opacity="0.53"/>
<circle cx="244.1" cy="192.2" r="0.49" fill="#a0cce2" opacity="0.54"/>
<circle cx="250.6" cy="217.4" r="0.83" fill="#c3a7d1" opacity="0.46"/>
<circle cx="231.3" cy="193.5" r="0.76" fill="#e3a4bb" opacity="0.59"/>
<circle cx="250.8" cy="189.0" r="0.54" fill="#94cfe1" opacity="0.86"/>
<circle cx="242.2" cy="190.0" r="0.80" fill="#aec5dc" opacity="0.37"/>
<circle cx="229.5" cy="197.3" r="0.73" fill="#e59fb3" opacity="0.37"/>
<circle cx="251.1" cy="190.9" r="0.81" fill="#92cfe0" opacity="0.49"/>
<circle cx="236.7" cy="220.3" r="0.52" fill="#e58f9f" opacity="0.50"/>
<circle cx="251.4" cy="219.5" r="0.48" fill="#c2a7d2" opacity="0.74"/>
<circle cx="236.8" cy="194.6" r="0.35" fill="#e2a8c1" opacity="0.77"/>
<circle cx="248.8" cy="220.3" r="0.82" fill="#ce9fc6" opacity="0.36"/>
<circle cx="239.6" cy="190.2" r="0.83" fill="#c5b9d2" opacity="0.87"/>
<circle cx="234.9" cy="198.0" r="0.56" fill="#e4a1b6" opacity="0.62"/>
<circle cx="249.1" cy="217.8" r="0.75" fill="#cca1c9" opacity="0.76"/>
<circle cx="242.4" cy="221.3" r="0.65" fill="#df92a7" opacity="0.53"/>
<circle cx="236.1" cy="194.2" r="0.74" fill="#e2a8c0" opacity="0.39"/>
<circle cx="241.0" cy="187.2" r="0.47" fill="#b0c4db" opacity="0.39"/>
<circle cx="251.8" cy="189.0" r="0.51" fill="#92cfe0" opacity="0.89"/>
<circle cx="246.7" cy="222.9" r="0.48" fill="#d49abb" opacity="0.40"/>
<circle cx="247.9" cy="188.3" r="0.70" fill="#99cee1" opacity="0.60"/>
<circle cx="239.8" cy="190.6" r="0.66" fill="#c6b9d2" opacity="0.72"/>
<circle cx="237.0" cy="220.0" r="0.68" fill="#e58f9f" opacity="0.42"/>
<circle cx="244.2" cy="218.1" r="0.63" fill="#dc94ad" opacity="0.56"/>
<circle cx="239.4" cy="214.9" r="0.47" fill="#e590a0" opacity="0.48"/>
<circle cx="243.9" cy="185.7" r="0.64" fill="#9ecce2" opacity="0.53"/>
<circle cx="228.4" cy="195.5" r="0.60" fill="#e5a0b5" opacity="0.48"/>
<circle cx="241.6" cy="220.2" r="0.85" fill="#e290a2" opacity="0.41"/>
<circle cx="228.2" cy="202.0" r="0.77" fill="#e899aa" opacity="0.85"/>
<circle cx="251.1" cy="189.9" r="0.41" fill="#93cfe0" opacity="0.45"/>
<circle cx="252.2" cy="218.9" r="0.82" fill="#bdaad6" opacity="0.55"/>
<circle cx="245.6" cy="219.4" r="0.48" fill="#d798b5" opacity="0.78"/>
<circle cx="250.0" cy="217.4" r="0.65" fill="#c6a5ce" opacity="0.69"/>
<circle cx="240.8" cy="190.5" r="0.42" fill="#bcbed6" opacity="0.46"/>
<circle cx="237.9" cy="189.9" r="0.68" fill="#d2b3cc" opacity="0.46"/>
<circle cx="252.8" cy="190.2" r="0.69" fill="#90d0e0" opacity="0.45"/>
<circle cx="237.4" cy="194.9" r="0.75" fill="#e1a9c1" opacity="0.65"/>
<circle cx="249.5" cy="190.6" r="0.55" fill="#95cfe1" opacity="0.65"/>
<circle cx="236.8" cy="210.4" r="0.43" fill="#e792a2" opacity="0.73"/>
<circle cx="234.1" cy="199.0" r="0.50" fill="#e59fb3" opacity="0.87"/>
<circle cx="235.1" cy="192.6" r="0.53" fill="#e1a9c1" opacity="0.58"/>
<circle cx="245.2" cy="223.1" r="0.53" fill="#d898b4" opacity="0.46"/>
<circle cx="239.0" cy="214.6" r="0.35" fill="#e590a0" opacity="0.85"/>
<circle cx="229.1" cy="198.2" r="0.55" fill="#e69eb1" opacity="0.84"/>
<circle cx="234.6" cy="202.0" r="0.36" fill="#e79aac" opacity="0.65"/>
<circle cx="230.5" cy="214.8" r="0.39" fill="#e792a2" opacity="0.69"/>
<circle cx="233.3" cy="196.0" r="0.42" fill="#e4a3b9" opacity="0.51"/>
<circle cx="227.2" cy="205.7" r="0.40" fill="#e995a5" opacity="0.62"/>
<circle cx="240.7" cy="222.4" r="0.45" fill="#e38fa1" opacity="0.42"/>
<circle cx="250.9" cy="221.5" r="0.59" fill="#c7a4ce" opacity="0.38"/>
<circle cx="249.2" cy="218.9" r="0.80" fill="#cca1c9" opacity="0.69"/>
<circle cx="243.5" cy="216.9" r="0.74" fill="#df92a7" opacity="0.47"/>
<circle cx="229.4" cy="196.7" r="0.76" fill="#e5a0b4" opacity="0.45"/>
<circle cx="240.7" cy="190.3" r="0.61" fill="#bcbed6" opacity="0.56"/>
<circle cx="246.3" cy="189.9" r="0.71" fill="#9bcde1" opacity="0.84"/>
<circle cx="251.4" cy="188.8" r="0.73" fill="#93cfe0" opacity="0.37"/>
<circle cx="244.3" cy="216.8" r="0.65" fill="#dc94ac" opacity="0.65"/>
<circle cx="234.8" cy="211.0" r="0.56" fill="#e793a3" opacity="0.67"/>
<circle cx="230.5" cy="198.8" r="0.57" fill="#e69db1" opacity="0.59"/>
<circle cx="252.5" cy="189.0" r="0.59" fill="#91cfe0" opacity="0.48"/>
<circle cx="238.3" cy="220.0" r="0.58" fill="#e58f9f" opacity="0.45"/>
<circle cx="235.0" cy="202.7" r="0.41" fill="#e899aa" opacity="0.59"/>
<circle cx="248.2" cy="188.7" r="0.61" fill="#98cee1" opacity="0.37"/>
<circle cx="236.8" cy="210.3" r="0.72" fill="#e792a2" opacity="0.78"/>
<circle cx="235.5" cy="204.5" r="0.60" fill="#e996a6" opacity="0.56"/>
<circle cx="250.4" cy="217.5" r="0.78" fill="#c4a6d0" opacity="0.90"/>
<circle cx="236.1" cy="219.1" r="0.45" fill="#e590a0" opacity="0.89"/>
<circle cx="226.8" cy="203.3" r="0.81" fill="#e997a7" opacity="0.44"/>
<circle cx="239.5" cy="221.8" r="0.38" fill="#e48e9e" opacity="0.54"/>
<circle cx="240.3" cy="215.2" r="0.80" fill="#e58f9f" opacity="0.50"/>
<circle cx="243.1" cy="216.6" r="0.60" fill="#e191a4" opacity="0.86"/>
<circle cx="241.6" cy="191.1" r="0.60" fill="#b7c1d8" opacity="0.53"/>
<circle cx="251.1" cy="190.4" r="0.43" fill="#93cfe0" opacity="0.87"/>
<circle cx="232.6" cy="217.1" r="0.43" fill="#e691a1" opacity="0.78"/>
<circle cx="246.7" cy="188.0" r="0.67" fill="#9bcde1" opacity="0.55"/>
<circle cx="246.0" cy="220.1" r="0.64" fill="#d699b7" opacity="0.84"/>
<circle cx="247.6" cy="185.2" r="0.66" fill="#99cee1" opacity="0.57"/>
<circle cx="241.9" cy="217.1" r="0.85" fill="#e48e9e" opacity="0.67"/>
<circle cx="231.6" cy="194.1" r="0.57" fill="#e3a4ba" opacity="0.45"/>
<circle cx="240.3" cy="214.0" r="0.76" fill="#e58f9f" opacity="0.49"/>
<circle cx="229.9" cy="215.0" r="0.64" fill="#e792a2" opacity="0.72"/>
<circle cx="238.7" cy="196.2" r="0.37" fill="#e1a9c1" opacity="0.43"/>
<circle cx="233.5" cy="211.0" r="0.61" fill="#e793a3" opacity="0.84"/>
<circle cx="245.8" cy="190.1" r="0.68" fill="#9ccde2" opacity="0.36"/>
<circle cx="253.4" cy="190.3" r="0.40" fill="#8fd0e0" opacity="0.55"/>
<circle cx="239.8" cy="189.1" r="0.64" fill="#c0bcd4" opacity="0.46"/>
<circle cx="233.4" cy="211.6" r="0.42" fill="#e793a3" opacity="0.87"/>
<circle cx="240.4" cy="192.9" r="0.40" fill="#cbb6cf" opacity="0.70"/>
<circle cx="245.8" cy="221.6" r="0.55" fill="#d699b7" opacity="0.50"/>
<circle cx="253.2" cy="189.4" r="0.63" fill="#90d0e0" opacity="0.54"/>
<circle cx="234.3" cy="212.6" r="0.82" fill="#e792a2" opacity="0.75"/>
<circle cx="237.0" cy="187.5" r="0.37" fill="#ceb5ce" opacity="0.64"/>
<circle cx="234.6" cy="199.0" r="0.38" fill="#e59fb4" opacity="0.78"/>
<circle cx="253.0" cy="189.6" r="0.82" fill="#90d0e0" opacity="0.43"/>
<circle cx="241.2" cy="188.3" r="0.60" fill="#b1c3da" opacity="0.70"/>
<circle cx="242.9" cy="216.7" r="0.50" fill="#e190a4" opacity="0.52"/>
<circle cx="251.4" cy="187.2" r="0.74" fill="#94cfe1" opacity="0.74"/>
<circle cx="253.7" cy="189.1" r="0.72" fill="#90d0e0" opacity="0.61"/>
<circle cx="238.4" cy="216.9" r="0.46" fill="#e58f9f" opacity="0.41"/>
<circle cx="241.3" cy="193.4" r="0.52" fill="#c4bad2" opacity="0.76"/>
<circle cx="233.8" cy="217.6" r="0.71" fill="#e691a1" opacity="0.50"/>
<circle cx="232.2" cy="207.3" r="0.74" fill="#e895a5" opacity="0.64"/>
<circle cx="237.1" cy="190.0" r="0.83" fill="#d8b0ca" opacity="0.47"/>
<circle cx="246.4" cy="216.6" r="0.48" fill="#d59aba" opacity="0.48"/>
<circle cx="236.3" cy="220.5" r="0.72" fill="#e58f9f" opacity="0.53"/>
<circle cx="246.4" cy="218.6" r="0.47" fill="#d59aba" opacity="0.85"/>
<circle cx="231.8" cy="213.0" r="0.68" fill="#e792a2" opacity="0.89"/>
<circle cx="228.1" cy="201.6" r="0.70" fill="#e899aa" opacity="0.82"/>
<circle cx="229.6" cy="199.4" r="0.64" fill="#e69caf" opacity="0.52"/>
<circle cx="240.4" cy="188.5" r="0.39" fill="#b9c0d7" opacity="0.85"/>
<circle cx="245.2" cy="191.6" r="0.40" fill="#9ecde2" opacity="0.86"/>
<circle cx="236.8" cy="196.6" r="0.36" fill="#e3a5bd" opacity="0.37"/>
<circle cx="234.9" cy="216.1" r="0.70" fill="#e691a1" opacity="0.76"/>
<circle cx="249.9" cy="188.2" r="0.53" fill="#96cee1" opacity="0.80"/>
<circle cx="241.9" cy="222.1" r="0.38" fill="#e091a6" opacity="0.83"/>
<circle cx="248.9" cy="222.1" r="0.40" fill="#cf9fc5" opacity="0.46"/>
<circle cx="246.8" cy="191.2" r="0.77" fill="#9acde1" opacity="0.80"/>
<circle cx="230.9" cy="213.9" r="0.67" fill="#e792a2" opacity="0.51"/>
<circle cx="247.5" cy="190.7" r="0.73" fill="#99cee1" opacity="0.46"/>
<circle cx="235.8" cy="193.8" r="0.36" fill="#e2a8c0" opacity="0.49"/>
<circle cx="235.8" cy="190.2" r="0.53" fill="#e0acc6" opacity="0.53"/>
<circle cx="251.6" cy="218.9" r="0.78" fill="#c0a8d4" opacity="0.69"/>
<circle cx="251.8" cy="189.6" r="0.57" fill="#92cfe0" opacity="0.78"/>
<circle cx="232.6" cy="193.6" r="0.62" fill="#e3a5bc" opacity="0.47"/>
<circle cx="245.5" cy="216.9" r="0.76" fill="#d897b4" opacity="0.44"/>
<circle cx="253.4" cy="190.5" r="0.73" fill="#8fd0e0" opacity="0.89"/>
<circle cx="253.4" cy="190.0" r="0.60" fill="#8fd0e0" opacity="0.79"/>
<circle cx="242.4" cy="188.9" r="0.52" fill="#a9c8de" opacity="0.81"/>
<circle cx="236.0" cy="187.7" r="0.49" fill="#d5b2cb" opacity="0.47"/>
<circle cx="236.1" cy="215.5" r="0.40" fill="#e691a1" opacity="0.70"/>
<circle cx="249.1" cy="186.8" r="0.70" fill="#97cee1" opacity="0.78"/>
<circle cx="234.4" cy="211.2" r="0.55" fill="#e793a3" opacity="0.57"/>
<circle cx="247.0" cy="217.2" r="0.79" fill="#d39bbd" opacity="0.36"/>
<circle cx="241.8" cy="191.0" r="0.80" fill="#b5c1d9" opacity="0.63"/>
<circle cx="229.9" cy="194.7" r="0.47" fill="#e4a2b8" opacity="0.60"/>
<circle cx="228.9" cy="206.4" r="0.73" fill="#e895a5" opacity="0.71"/>
<circle cx="235.4" cy="195.7" r="0.43" fill="#e3a5bc" opacity="0.81"/>
<circle cx="232.8" cy="215.2" r="0.43" fill="#e692a2" opacity="0.59"/>
<circle cx="239.6" cy="218.8" r="0.41" fill="#e48f9f" opacity="0.60"/>
<circle cx="246.7" cy="218.1" r="0.45" fill="#d49bbb" opacity="0.52"/>
<circle cx="234.2" cy="218.0" r="0.43" fill="#e691a1" opacity="0.44"/>
<circle cx="239.5" cy="191.7" r="0.61" fill="#cdb5ce" opacity="0.44"/>
<circle cx="237.0" cy="195.6" r="0.84" fill="#e2a7bf" opacity="0.75"/>
<circle cx="247.7" cy="185.5" r="0.40" fill="#99cee1" opacity="0.56"/>
<circle cx="253.1" cy="219.2" r="0.72" fill="#b9add9" opacity="0.59"/>
<text transform="translate(236.3,212.7) scale(1,1.1)" font-size="22.3" font-weight="bold" fill="#0a0a0a" letter-spacing="1.45">CODERA</text>
<text x="282" y="222.9" font-size="8.2" fill="url(#lga)" letter-spacing="1.75">ANALYTICS</text>
</svg></body></html>
